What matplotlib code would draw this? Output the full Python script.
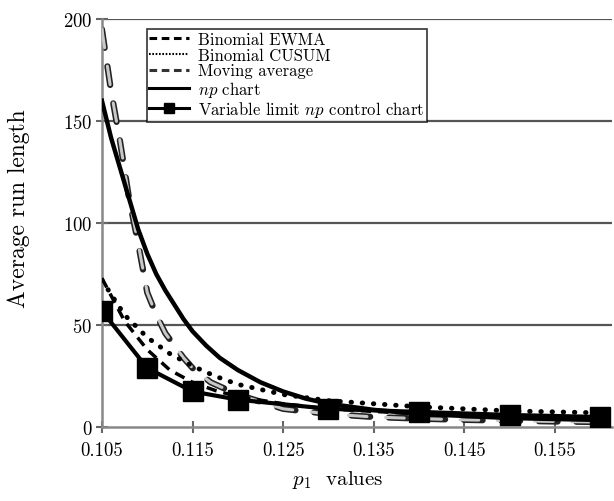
import matplotlib.pyplot as plt
import numpy as np
from matplotlib.lines import Line2D

plt.rcParams['font.family'] = ['cmr10', 'DejaVu Serif']
plt.rcParams['mathtext.fontset'] = 'cm'
plt.rcParams['axes.formatter.use_mathtext'] = True

# ARL values
p_np = [0.105, 0.106, 0.107, 0.108, 0.109, 0.11, 0.111, 0.112, 0.113, 0.114,
        0.115, 0.1165, 0.118, 0.12, 0.1225, 0.125, 0.1275, 0.13, 0.135,
        0.14, 0.145, 0.15, 0.155, 0.1605]
arl_np = [160, 142, 127, 112, 97, 85, 75, 67, 60, 53, 47, 40, 34, 28, 22,
          17.5, 14, 11.5, 8.5, 6.5, 5.5, 4.5, 4, 3.5]

p_ma = [0.105, 0.106, 0.107, 0.108, 0.109, 0.11, 0.111, 0.112, 0.113, 0.114,
        0.115, 0.117, 0.12, 0.125, 0.13, 0.135, 0.14, 0.145, 0.15, 0.155, 0.1605]
arl_ma = [195, 165, 140, 112, 90, 66, 55, 46, 40, 34, 29, 22, 16, 9, 6.5,
          5, 4.2, 3.6, 3.2, 2.8, 2.5]

p_ewma = [0.105, 0.1075, 0.11, 0.1125, 0.115, 0.1175, 0.12, 0.125, 0.13,
          0.14, 0.15, 0.1605]
arl_ewma = [73, 52, 38, 28, 22, 18, 15, 11.5, 9, 6.5, 5, 4]

p_cusum = [0.105, 0.1075, 0.11, 0.1125, 0.115, 0.1175, 0.12, 0.125, 0.13,
           0.135, 0.14, 0.145, 0.15, 0.155, 0.1605]
arl_cusum = [72, 55, 44, 36, 30, 25, 21, 16, 13, 11.5, 10, 9, 8, 7.5, 7]

p_vl = [0.105, 0.11, 0.115, 0.12, 0.13, 0.14, 0.15, 0.16]
arl_vl = [57, 29, 17.5, 13.5, 9, 7.5, 6, 5]

xticks = [0.105, 0.115, 0.125, 0.135, 0.145, 0.155]
yticks = [0, 50, 100, 150, 200]

fig = plt.figure(figsize=(6.14, 5.02), dpi=100)
ax = fig.add_axes([0.166, 0.147, 0.831, 0.813])

for y in yticks[1:]:
    ax.axhline(y, color='#555555', lw=1.6, zorder=1)

# moving average: grey dashes with dark outline
ax.plot(p_ma, arl_ma, color='#222222', lw=4.5, ls=(0, (3, 3)),
        dash_capstyle='round', zorder=2)
ax.plot(p_ma, arl_ma, color='#c8c8c8', lw=2.2, ls=(0, (6.1, 6.1)),
        dash_capstyle='round', zorder=3)

ax.plot(p_np, arl_np, color='black', lw=3.2, zorder=4)
ax.plot(p_ewma, arl_ewma, color='black', lw=2.5, ls=(0, (3, 2)), zorder=4)
ax.plot(p_cusum, arl_cusum, color='black', lw=3.5, ls=(0, (0.1, 2.2)),
        dash_capstyle='round', zorder=4)
ax.plot(p_vl, arl_vl, color='black', lw=3, marker='s', ms=14, zorder=5)

ax.set_xlim(0.105, 0.1613)
ax.set_ylim(0, 200)
ax.set_xticks(xticks)
ax.set_xticklabels(['%.3f' % t for t in xticks])
ax.set_yticks(yticks)
ax.tick_params(direction='inout', length=8, width=1.5, color='#666666',
               labelsize=13.5, pad=3)
ax.tick_params(axis='x', pad=6)
for s in ['top', 'right']:
    ax.spines[s].set_visible(False)
for s in ['left', 'bottom']:
    ax.spines[s].set_color('#888888')
    ax.spines[s].set_linewidth(1.8)

ax.set_ylabel('Average run length', fontsize=17)
ax.yaxis.set_label_coords(-0.141, 0.537)
fig.text(338 / 614, 1 - 485 / 502, '$p_1$  values', fontsize=15,
         ha='center', va='baseline')

handles = [
    Line2D([], [], color='black', lw=2.2, ls=(0, (2.5, 1.5))),
    Line2D([], [], color='black', lw=1.5, ls=(0, (0.8, 0.8))),
    Line2D([], [], color='#333333', lw=2.2, ls=(0, (2.5, 1.5))),
    Line2D([], [], color='black', lw=2.2),
    Line2D([], [], color='black', lw=2.2, marker='s', ms=7),
]
labels = ['Binomial EWMA', 'Binomial CUSUM', 'Moving average',
          '$np$ chart', 'Variable limit $np$ control chart']
leg = ax.legend(handles, labels, loc='upper left', bbox_to_anchor=(0.088, 0.975),
                fontsize=12, frameon=True, fancybox=False, edgecolor='black',
                handlelength=2.4, handletextpad=0.5, labelspacing=0.02,
                borderpad=0.15, borderaxespad=0)
leg.get_frame().set_linewidth(1.2)
leg.set_zorder(10)

fig.savefig('out.png', dpi=100)
